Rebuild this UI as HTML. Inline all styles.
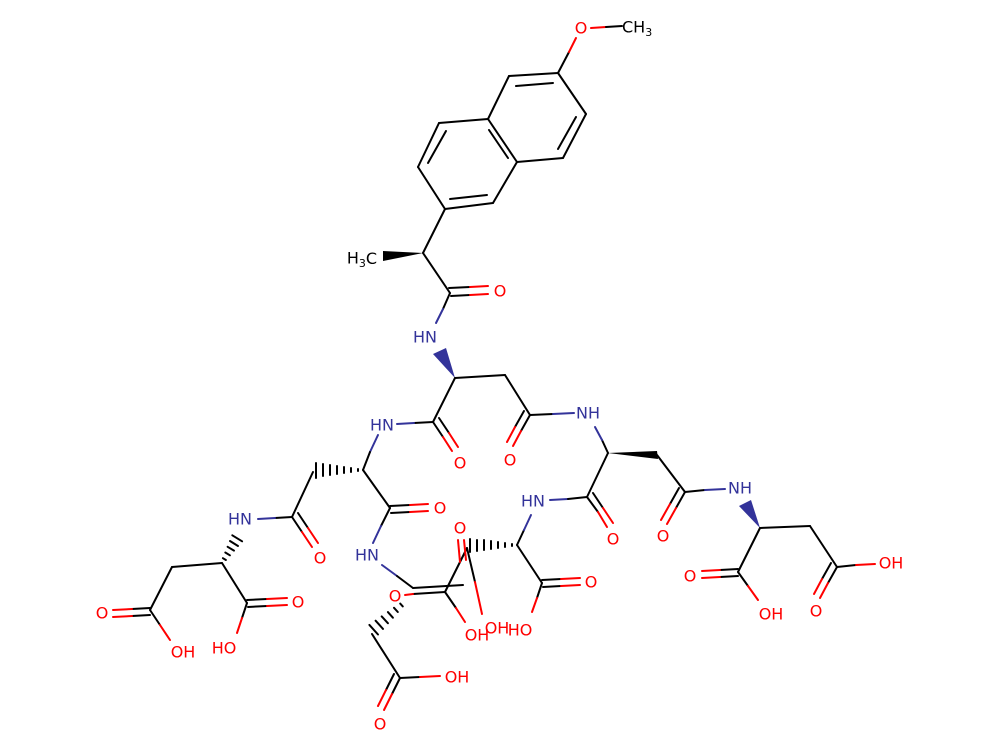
<!DOCTYPE html>
<html><head><meta charset="utf-8"><style>
html,body{margin:0;padding:0;background:#fff}
svg{display:block}
text{font-family:"DejaVu Sans","Liberation Sans",sans-serif;font-size:16px;text-anchor:middle;dominant-baseline:central}
.o{fill:#ff0000}.n{fill:#33339a}
line{stroke:#000;stroke-width:2;stroke-linecap:round}
line.r{stroke:#ff0000}line.b{stroke:#33339a}
</style></head><body>
<svg width="1000" height="750" viewBox="0 0 1000 750" xmlns="http://www.w3.org/2000/svg">
<rect width="1000" height="750" fill="#fff"/>
<!-- naphthalene -->
<line x1="445" y1="209" x2="418" y2="167"/><line x1="418" y1="167" x2="439" y2="123"/>
<line x1="439" y1="123" x2="488" y2="119"/><line x1="488" y1="119" x2="517" y2="162"/>
<line x1="517" y1="162" x2="493" y2="203"/><line x1="493" y1="203" x2="445" y2="209"/>
<line x1="488" y1="119" x2="509" y2="76"/><line x1="509" y1="76" x2="558" y2="73"/>
<line x1="558" y1="73" x2="586" y2="114"/><line x1="586" y1="114" x2="563" y2="158"/>
<line x1="563" y1="158" x2="517" y2="162"/>
<line x1="428" y1="163" x2="446" y2="131"/><line x1="450" y1="199" x2="487" y2="195"/>
<line x1="489" y1="130" x2="508" y2="158"/><line x1="516" y1="86" x2="553" y2="83"/>
<line x1="576" y1="117" x2="558" y2="149"/>
<line x1="558" y1="73" x2="569" y2="52"/><line class="r" x1="569" y1="52" x2="576" y2="38"/>
<text x="581" y="28" class="o">O</text>
<line class="r" x1="591" y1="28" x2="606" y2="27"/><line x1="606" y1="27" x2="622" y2="26"/>
<text x="622" y="27" style="text-anchor:start">CH<tspan dy="5" font-size="11">3</tspan></text>
<!-- chiral methyl -->
<line x1="445" y1="209" x2="423" y2="253"/>
<polygon points="423,253 383,251 383,261" fill="#000"/>
<text x="362" y="258">H<tspan dy="5" font-size="11">3</tspan><tspan dy="-5">C</tspan></text>
<line x1="423" y1="253" x2="450" y2="293"/>
<line x1="449" y1="288" x2="470" y2="287"/><line class="r" x1="470" y1="287" x2="488" y2="286"/>
<line x1="451" y1="296" x2="470" y2="295"/><line class="r" x1="470" y1="295" x2="488" y2="294"/>
<text x="500" y="291" class="o">O</text>
<line x1="450" y1="293" x2="443" y2="309"/><line class="b" x1="443" y1="309" x2="436" y2="323"/>
<text x="425" y="337" class="n">HN</text>
<polygon points="455,378 433,354 446,348" fill="#33339a"/>
<line x1="455" y1="378" x2="505" y2="375"/><line x1="505" y1="375" x2="530" y2="415"/>
<line x1="530" y1="415" x2="521" y2="431"/><line class="r" x1="521" y1="431" x2="513" y2="446"/>
<line x1="524" y1="411" x2="515" y2="427"/><line class="r" x1="515" y1="427" x2="507" y2="442"/>
<text x="510" y="460" class="o">O</text>
<line x1="530" y1="415" x2="553" y2="414"/><line class="b" x1="553" y1="414" x2="574" y2="413"/>
<text x="588" y="413" class="n">NH</text>
<line x1="455" y1="378" x2="433" y2="422"/>
<line x1="433" y1="422" x2="443" y2="437"/><line class="r" x1="443" y1="437" x2="452" y2="451"/>
<line x1="439" y1="418" x2="449" y2="433"/><line class="r" x1="449" y1="433" x2="458" y2="447"/>
<text x="460" y="463" class="o">O</text>
<line x1="433" y1="422" x2="414" y2="423"/><line class="b" x1="414" y1="423" x2="397" y2="424"/>
<text x="382" y="425" class="n">HN</text>
<line class="b" x1="378" y1="435" x2="370" y2="452"/><line x1="370" y1="452" x2="363" y2="470"/>
<g stroke="#000" stroke-width="1.5">
<line x1="358" y1="469" x2="358" y2="471"/><line x1="351" y1="468" x2="351" y2="472"/><line x1="344" y1="467" x2="344" y2="473"/>
<line x1="337" y1="466" x2="337" y2="474"/><line x1="330" y1="465" x2="330" y2="475"/><line x1="323" y1="464" x2="323" y2="476"/><line x1="316" y1="463" x2="316" y2="478"/>
</g>
<line x1="363" y1="470" x2="390" y2="508"/>
<line x1="390" y1="506" x2="410" y2="505"/><line class="r" x1="410" y1="505" x2="428" y2="504"/>
<line x1="391" y1="513" x2="410" y2="512"/><line class="r" x1="410" y1="512" x2="428" y2="511"/>
<text x="440" y="508" class="o">O</text>
<line x1="390" y1="508" x2="381" y2="526"/><line class="b" x1="381" y1="526" x2="373" y2="543"/>
<text x="367" y="555" class="n">HN</text>
<line class="b" x1="382" y1="565" x2="397" y2="576"/><line x1="397" y1="576" x2="413" y2="588"/>
<!-- left arm -->
<line x1="313" y1="472" x2="292" y2="517"/>
<line x1="292" y1="517" x2="302" y2="532"/><line class="r" x1="302" y1="532" x2="312" y2="547"/>
<line x1="298" y1="513" x2="308" y2="528"/><line class="r" x1="308" y1="528" x2="318" y2="543"/>
<text x="320" y="558" class="o">O</text>
<line x1="292" y1="517" x2="275" y2="518"/><line class="b" x1="275" y1="518" x2="258" y2="519"/>
<text x="240" y="519" class="n">HN</text>
<g stroke="#000" stroke-width="1.5">
<line x1="222.9" y1="558.2" x2="225.9" y2="560"/><line x1="225.3" y1="552.5" x2="229.9" y2="555.3"/>
<line x1="227.6" y1="546.8" x2="234" y2="550.6"/><line x1="230" y1="541" x2="238" y2="546"/>
<line x1="232.3" y1="535.3" x2="242.1" y2="541.3"/>
</g>
<line x1="222" y1="563" x2="172" y2="567"/><line x1="172" y1="567" x2="150" y2="610"/>
<line x1="150" y1="608" x2="132" y2="609"/><line class="r" x1="132" y1="609" x2="113" y2="610"/>
<line x1="150" y1="615" x2="132" y2="616"/><line class="r" x1="132" y1="616" x2="113" y2="617"/>
<text x="102" y="613" class="o">O</text>
<line x1="150" y1="610" x2="160" y2="625"/><line class="r" x1="160" y1="625" x2="170" y2="640"/>
<text x="183" y="652" class="o">OH</text>
<line x1="222" y1="563" x2="247" y2="603"/>
<line x1="247" y1="600" x2="267" y2="599"/><line class="r" x1="267" y1="599" x2="287" y2="598"/>
<line x1="248" y1="607" x2="267" y2="606"/><line class="r" x1="267" y1="606" x2="287" y2="605"/>
<text x="298" y="602" class="o">O</text>
<line x1="247" y1="603" x2="242" y2="618"/><line class="r" x1="242" y1="618" x2="237" y2="633"/>
<text x="224" y="648" class="o">HO</text>
<!-- center -->
<line x1="413" y1="588" x2="463" y2="585"/>
<line x1="413" y1="594" x2="445" y2="592"/>
<line class="r" x1="405" y1="595" x2="413" y2="594"/>
<text x="395" y="596" class="o">O</text>
<line x1="445" y1="592" x2="467" y2="548"/>
<line x1="467" y1="548" x2="475" y2="582"/><line class="r" x1="475" y1="582" x2="482" y2="614"/>
<text x="497" y="628" class="o">OH</text>
<line x1="445" y1="592" x2="456" y2="608"/><line class="r" x1="456" y1="608" x2="465" y2="622"/>
<text x="477" y="635" class="o">OH</text>
<line class="r" x1="458" y1="540" x2="460" y2="562"/><line class="r" x1="464" y1="540" x2="466" y2="560"/>
<text x="460" y="528" class="o">O</text>
<g stroke="#000" stroke-width="1.5">
<line x1="512" y1="544" x2="512" y2="546"/><line x1="505" y1="543" x2="505" y2="547"/><line x1="498" y1="542" x2="498" y2="548"/>
<line x1="491" y1="541" x2="491" y2="549"/><line x1="484" y1="540" x2="484" y2="550"/><line x1="477" y1="540" x2="477" y2="551"/><line x1="470" y1="539" x2="470" y2="552"/>
</g>
<line x1="517" y1="545" x2="524" y2="530"/><line class="b" x1="524" y1="530" x2="531" y2="515"/>
<text x="533" y="501" class="n">HN</text>
<line class="b" x1="550" y1="500" x2="568" y2="499"/><line x1="568" y1="499" x2="587" y2="497"/>
<line x1="587" y1="497" x2="598" y2="512"/><line class="r" x1="598" y1="512" x2="607" y2="527"/>
<line x1="593" y1="493" x2="603" y2="508"/><line class="r" x1="603" y1="508" x2="613" y2="523"/>
<text x="613" y="539" class="o">O</text>
<line x1="587" y1="497" x2="608" y2="453"/>
<line x1="608" y1="453" x2="602" y2="440"/><line class="b" x1="602" y1="440" x2="595" y2="427"/>
<line x1="517" y1="545" x2="542" y2="583"/>
<line x1="542" y1="580" x2="561" y2="579"/><line class="r" x1="561" y1="579" x2="580" y2="578"/>
<line x1="543" y1="587" x2="561" y2="586"/><line class="r" x1="561" y1="586" x2="580" y2="585"/>
<text x="591" y="582" class="o">O</text>
<line x1="542" y1="583" x2="537" y2="598"/><line class="r" x1="537" y1="598" x2="532" y2="612"/>
<text x="520" y="630" class="o">HO</text>
<g stroke="#000" stroke-width="1.5">
<line x1="400.2" y1="603.6" x2="402.8" y2="606.4"/><line x1="394" y1="607.8" x2="397.8" y2="612"/>
<line x1="387.9" y1="612.1" x2="392.9" y2="617.7"/><line x1="381.7" y1="616.4" x2="387.9" y2="623.2"/>
<line x1="375.6" y1="620.7" x2="383" y2="628.9"/><line x1="369.4" y1="624.9" x2="378" y2="634.5"/>
</g>
<line x1="372" y1="634" x2="400" y2="678"/>
<line x1="400" y1="678" x2="392" y2="694"/><line class="r" x1="392" y1="694" x2="384" y2="710"/>
<line x1="394" y1="674" x2="386" y2="690"/><line class="r" x1="386" y1="690" x2="378" y2="706"/>
<text x="380" y="724" class="o">O</text>
<line x1="400" y1="678" x2="420" y2="677"/><line class="r" x1="420" y1="677" x2="440" y2="676"/>
<text x="457" y="677" class="o">OH</text>
<!-- right arm -->
<polygon points="608,453 657,451 658,459" fill="#000"/>
<line x1="657" y1="455" x2="685" y2="492"/>
<line x1="685" y1="492" x2="676" y2="508"/><line class="r" x1="676" y1="508" x2="667" y2="524"/>
<line x1="679" y1="488" x2="670" y2="504"/><line class="r" x1="670" y1="504" x2="661" y2="520"/>
<text x="663" y="536" class="o">O</text>
<line x1="685" y1="492" x2="705" y2="490"/><line class="b" x1="705" y1="490" x2="725" y2="489"/>
<text x="740" y="488" class="n">NH</text>
<polygon points="760,528 739,506 751,500" fill="#33339a"/>
<line x1="760" y1="528" x2="810" y2="526"/><line x1="810" y1="526" x2="837" y2="567"/>
<line x1="837" y1="567" x2="856" y2="565"/><line class="r" x1="856" y1="565" x2="875" y2="564"/>
<text x="891" y="563" class="o">OH</text>
<line x1="837" y1="567" x2="828" y2="583"/><line class="r" x1="828" y1="583" x2="820" y2="598"/>
<line x1="831" y1="563" x2="822" y2="579"/><line class="r" x1="822" y1="579" x2="814" y2="594"/>
<text x="816" y="611" class="o">O</text>
<line x1="760" y1="528" x2="738" y2="572"/>
<line x1="738" y1="569" x2="720" y2="570"/><line class="r" x1="720" y1="570" x2="702" y2="571"/>
<line x1="738" y1="576" x2="720" y2="577"/><line class="r" x1="720" y1="577" x2="702" y2="578"/>
<text x="690" y="576" class="o">O</text>
<line x1="738" y1="572" x2="748" y2="586"/><line class="r" x1="748" y1="586" x2="758" y2="600"/>
<text x="771" y="614" class="o">OH</text>
</svg>
</body></html>
